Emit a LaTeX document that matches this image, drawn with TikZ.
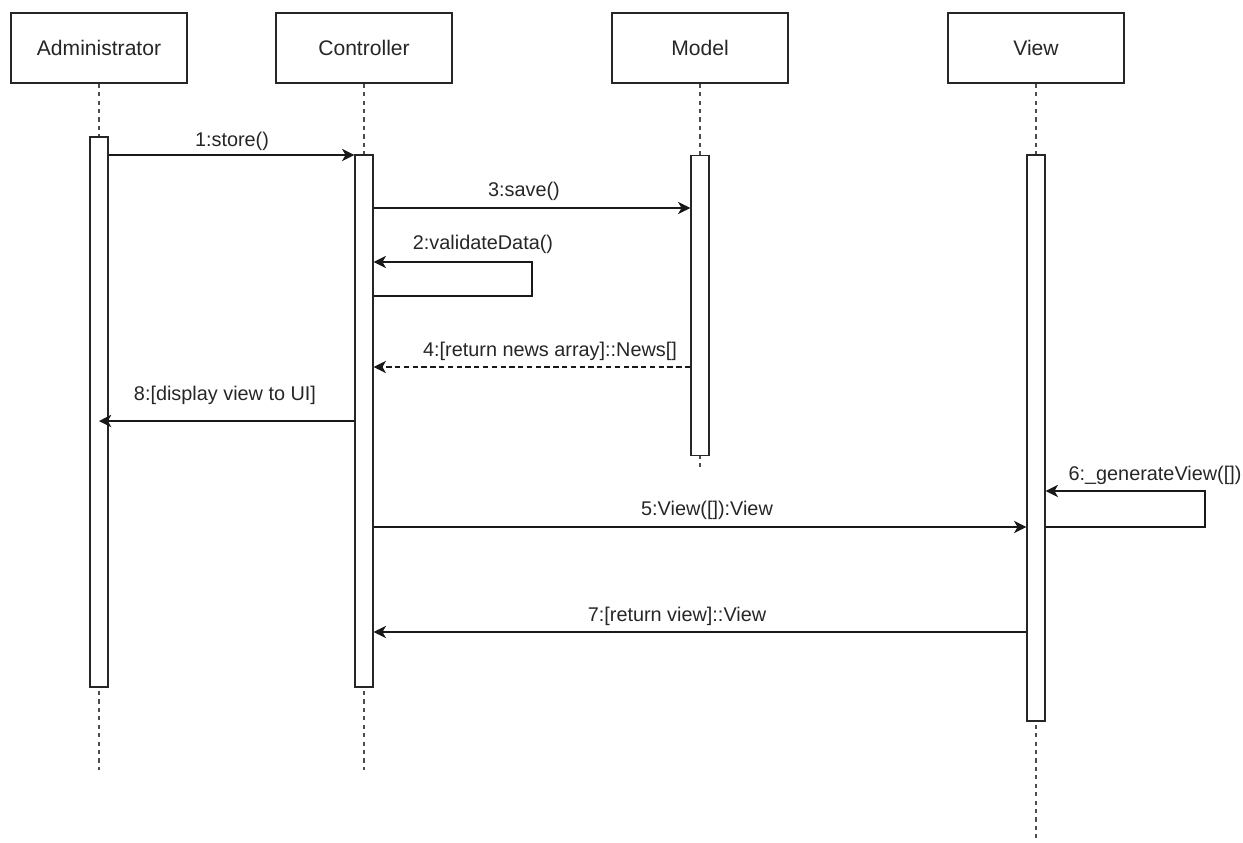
\documentclass[tikz,border=0pt]{standalone}
\usepackage{fontspec}
\setmainfont{Liberation Sans}
\usetikzlibrary{arrows.meta}
\begin{document}
\begin{tikzpicture}[x=0.02cm,y=-0.02cm,
  head/.style={draw=black!85,line width=0.8pt,fill=white,minimum width=3.52cm,minimum height=1.4cm,inner sep=0pt,font=\fontsize{12}{14}\selectfont,text=black!85},
  actbar/.style={draw=black!85,line width=0.8pt,fill=white,minimum width=0.36cm,inner sep=0pt},
  life/.style={draw=black!70,line width=0.9pt,dash pattern=on 2.4pt off 2.4pt},
  msg/.style={draw=black!90,line width=0.8pt,-{Stealth[length=7pt,width=7pt,inset=2pt]}},
  ret/.style={msg,dash pattern=on 3pt off 2pt},
  lbl/.style={font=\fontsize{11.3}{13}\selectfont,text=black!85,inner sep=0pt}
]
\useasboundingbox (0,0) rectangle (1243,842);
% heads
\node[head] (adm) at (99,48) {Administrator};
\node[head] (ctl) at (364,48) {Controller};
\node[head] (mdl) at (700,48) {Model};
\node[head] (vw) at (1036,48) {View};
% lifeline ends
\coordinate (eA) at (99,770);
\coordinate (eC) at (364,770);
\coordinate (eM) at (700,470);
\coordinate (eV) at (1036,842);
\draw[life] (adm.south) -- (eA);
\draw[life] (ctl.south) -- (eC);
\draw[life] (mdl.south) -- (eM);
\draw[life] (vw.south) -- (eV);
% activation bars
\node[actbar,minimum height=11cm] (ab) at (99,412) {};
\node[actbar,minimum height=10.64cm] (cb) at (364,421) {};
\node[actbar,minimum height=6cm] (mb) at (700,305.5) {};
\node[actbar,minimum height=11.32cm] (vb) at (1036,438) {};
% y levels
\coordinate (y1) at (0,155);
\coordinate (y3) at (0,208);
\coordinate (y2a) at (0,296);
\coordinate (y2b) at (0,262);
\coordinate (y4) at (0,367);
\coordinate (y8) at (0,421);
\coordinate (y6a) at (0,527);
\coordinate (y6b) at (0,491);
\coordinate (y5) at (0,527);
\coordinate (y7) at (0,632);
\coordinate (l2a) at (532,296);
\coordinate (l2b) at (532,262);
\coordinate (l6a) at (1205,527);
\coordinate (l6b) at (1205,491);
% messages
\draw[msg] (ab.east |- y1) -- (cb.west |- y1);
\draw[msg] (cb.east |- y3) -- (mb.west |- y3);
\draw[msg] (cb.east |- y2a) -- (l2a) -- (l2b) -- (cb.east |- y2b);
\draw[ret] (mb.west |- y4) -- (cb.east |- y4);
\draw[msg] (cb.west |- y8) -- (ab.center |- y8);
\draw[msg] (vb.east |- y6a) -- (l6a) -- (l6b) -- (vb.east |- y6b);
\draw[msg] (cb.east |- y5) -- (vb.west |- y5);
\draw[msg] (vb.west |- y7) -- (cb.east |- y7);
% labels
\node[lbl] (t1) at (232,141) {1:store()};
\node[lbl] (t3) at (524,191) {3:save()};
\node[lbl] (t2) at (483,244) {2:validateData()};
\node[lbl] (t4) at (550,351) {4:[return news array]::News[]};
\node[lbl] (t8) at (225,395) {8:[display view to UI]};
\node[lbl] (t6) at (1155,475) {6:\_generateView([])};
\node[lbl] (t5) at (707,510) {5:View([]):View};
\node[lbl] (t7) at (677,616) {7:[return view]::View};
\end{tikzpicture}
\end{document}
